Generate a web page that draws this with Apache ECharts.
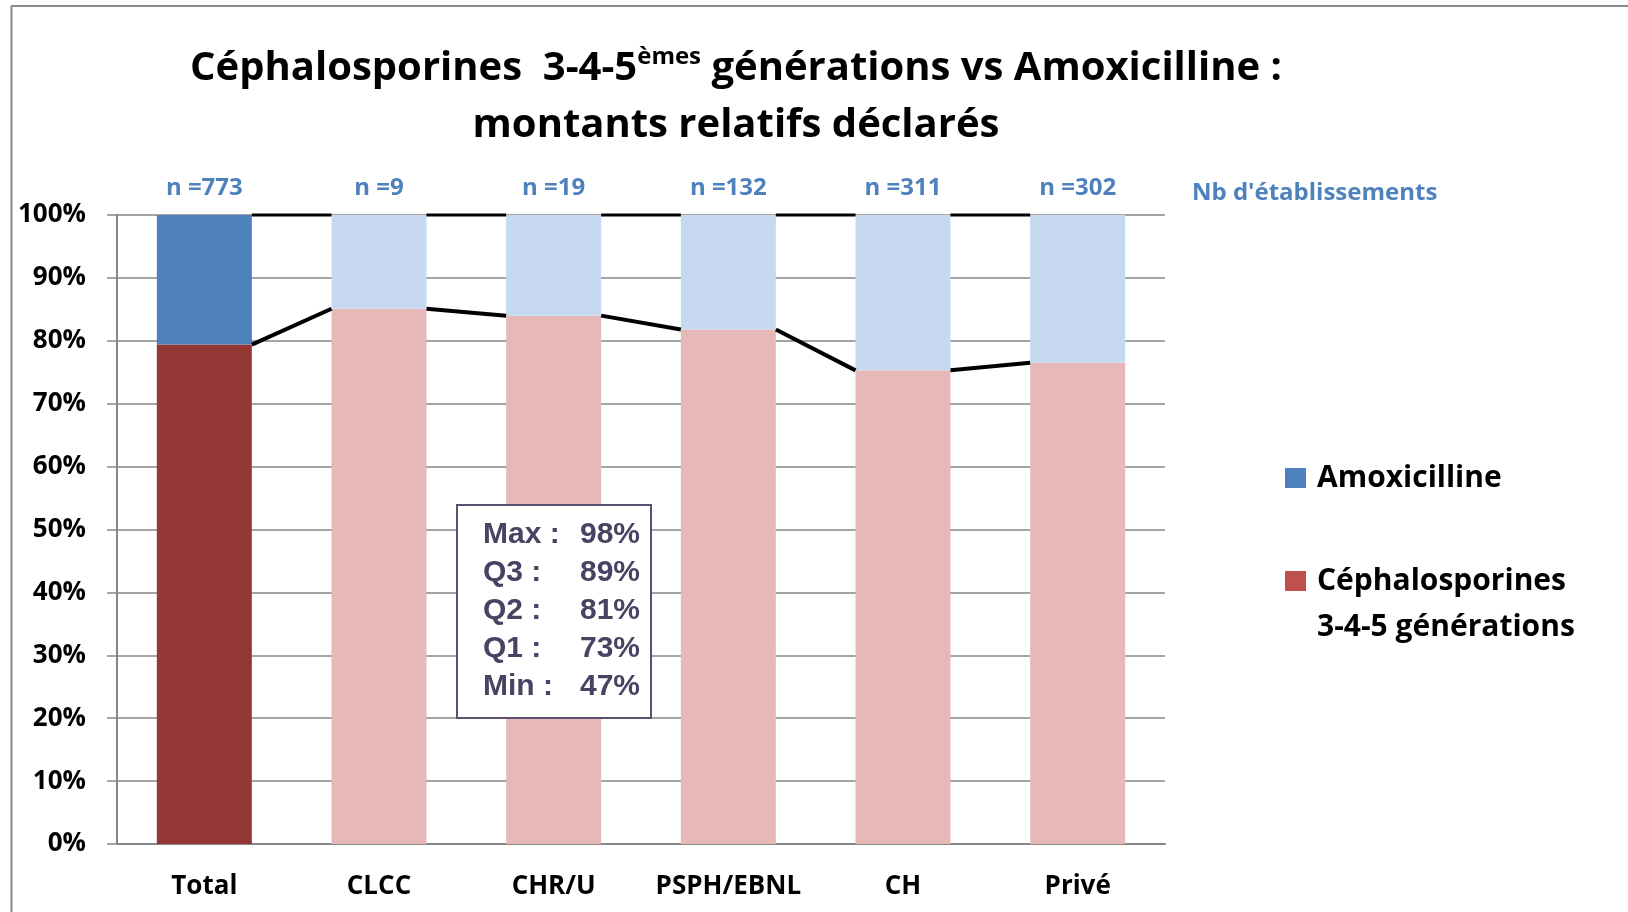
<!DOCTYPE html>
<html>
<head>
<meta charset="utf-8">
<script src="https://cdn.jsdelivr.net/npm/echarts@6/dist/echarts.min.js"></script>
<style>
html,body{margin:0;padding:0;background:#fff;}
#chart{width:1628px;height:912px;}
</style>
</head>
<body>
<div id="chart"></div>
<script>
const categories = ['Total', 'CLCC', 'CHR/U', 'PSPH/EBNL', 'CH', 'Privé'];
const nLabels = ['n =773', 'n =9', 'n =19', 'n =132', 'n =311', 'n =302'];
const cephaValues = [79.4, 85.1, 84.0, 81.8, 75.3, 76.5];
const amoxValues = [20.6, 14.9, 16.0, 18.2, 24.7, 23.5];
const statLabels = ['Max :', 'Q3 :', 'Q2 :', 'Q1 :', 'Min :'];
const statValues = ['98%', '89%', '81%', '73%', '47%'];

const BAR_RATIO = 0.544;
const cephaColors = ['#943634', '#E6B8B7', '#E6B8B7', '#E6B8B7', '#E6B8B7', '#E6B8B7'];
const amoxColors = ['#4F81BD', '#C6D9F1', '#C6D9F1', '#C6D9F1', '#C6D9F1', '#C6D9F1'];

const cephaName = 'Céphalosporines 3-4-5 générations';
const amoxName = 'Amoxicilline';

const segData = [];
const topData = [];
for (let i = 0; i < cephaValues.length - 1; i++) {
  segData.push([i, cephaValues[i], cephaValues[i + 1]]);
  topData.push([i, 100, 100]);
}

function seriesLine(params, api) {
  const i = api.value(0);
  const a = api.value(1);
  const b = api.value(2);
  const bw = api.size([1, 0])[0] * BAR_RATIO;
  const p1 = api.coord([i, a]);
  const p2 = api.coord([i + 1, b]);
  return {
    type: 'line',
    shape: { x1: p1[0] + bw / 2, y1: p1[1], x2: p2[0] - bw / 2, y2: p2[1] },
    style: { stroke: '#000', lineWidth: params.seriesName === 'top' ? 3 : 4 }
  };
}

const boxFont = 'bold 30px "Liberation Sans", Arial';
const statGraphics = [];
statLabels.forEach((t, k) => {
  statGraphics.push({
    type: 'text', x: 483, y: 535 + k * 38, z: 101,
    style: { text: t, fill: '#4a4262', font: boxFont, textAlign: 'left', textVerticalAlign: 'middle' }
  });
  statGraphics.push({
    type: 'text', x: 640, y: 535 + k * 38, z: 101,
    style: { text: statValues[k], fill: '#4a4262', font: boxFont, textAlign: 'right', textVerticalAlign: 'middle' }
  });
});

const chart = echarts.init(document.getElementById('chart'));
chart.setOption({
  animation: false,
  backgroundColor: '#fff',
  grid: { left: 117, right: 463, top: 215, bottom: 68 },
  legend: {
    orient: 'vertical',
    left: 1285,
    top: 463,
    padding: 0,
    itemWidth: 21,
    itemHeight: 20,
    itemGap: 27,
    icon: 'rect',
    formatter: function (name) {
      if (name === cephaName) return '{t| }\n{t|Céphalosporines}\n{t|3-4-5 générations}';
      return '{t|' + name + '}';
    },
    textStyle: {
      padding: [0, 0, 0, 6],
      rich: { t: { fontSize: 30, fontWeight: 'bold', color: '#000', fontFamily: '"Open Sans"', lineHeight: 46 } }
    },
    data: [
      { name: amoxName, itemStyle: { color: '#4F81BD' } },
      { name: cephaName, itemStyle: { color: '#C0504D' } }
    ]
  },
  xAxis: [
    {
      type: 'category',
      data: categories,
      position: 'bottom',
      axisLine: { lineStyle: { color: '#868686', width: 2 } },
      axisTick: { length: 11, lineStyle: { color: '#868686', width: 1.5 } },
      axisLabel: { interval: 0, margin: 30, fontSize: 26, fontWeight: 'bold', color: '#000', fontFamily: '"Open Sans"' }
    },
    {
      type: 'category',
      data: nLabels,
      position: 'top',
      axisLine: { show: false },
      axisTick: { show: false },
      axisLabel: { interval: 0, margin: 15, fontSize: 24, fontWeight: 'bold', color: '#4F81BD', fontFamily: '"Open Sans"' }
    }
  ],
  yAxis: {
    type: 'value',
    min: 0, max: 100, interval: 10,
    axisLine: { show: true, lineStyle: { color: '#868686', width: 2 } },
    axisTick: { show: true, length: 10, lineStyle: { color: '#868686', width: 1.5 } },
    splitLine: { lineStyle: { color: '#868686', width: 1.5 } },
    axisLabel: { formatter: '{value}%', margin: 31, fontSize: 26, fontWeight: 'bold', color: '#000', fontFamily: '"Open Sans"' }
  },
  series: [
    {
      name: cephaName, type: 'bar', stack: 'a', barWidth: (BAR_RATIO * 100) + '%',
      data: cephaValues.map((v, i) => ({ value: v, itemStyle: { color: cephaColors[i] } })),
      itemStyle: { color: '#C0504D' }
    },
    {
      name: amoxName, type: 'bar', stack: 'a', barWidth: (BAR_RATIO * 100) + '%',
      data: amoxValues.map((v, i) => ({ value: v, itemStyle: { color: amoxColors[i] } })),
      itemStyle: { color: '#4F81BD' }
    },
    {
      name: 'seg', type: 'custom', renderItem: seriesLine, data: segData, encode: { x: 0, y: 1 }, z: 5, silent: true
    },
    {
      name: 'top', type: 'custom', renderItem: seriesLine, data: topData, encode: { x: 0, y: 1 }, z: 5, silent: true
    }
  ],
  graphic: [
    { type: 'line', z: 100, shape: { x1: 11.5, y1: 6, x2: 11.5, y2: 912 }, style: { stroke: '#8a8a8a', lineWidth: 2 } },
    { type: 'line', z: 100, shape: { x1: 11, y1: 6, x2: 1628, y2: 6 }, style: { stroke: '#8a8a8a', lineWidth: 2 } },
    {
      type: 'text', x: 736, y: 97, z: 100,
      style: {
        text: '{a|Céphalosporines  3-4-5}{sup|èmes}{a| générations vs Amoxicilline :}\n{a|montants relatifs déclarés}',
        textAlign: 'center', textVerticalAlign: 'middle',
        rich: {
          a: { fontSize: 40, fontWeight: 'bold', fontFamily: '"Open Sans"', fill: '#000', lineHeight: 57 },
          sup: { fontSize: 24, fontWeight: 'bold', fontFamily: '"Open Sans"', fill: '#000', lineHeight: 57, padding: [0, 0, 22, 0] }
        }
      }
    },
    {
      type: 'text', x: 1192, y: 193, z: 100,
      style: { text: "Nb d'établissements", fill: '#4F81BD', font: 'bold 24px "Open Sans"', textAlign: 'left', textVerticalAlign: 'middle' }
    },
    { type: 'rect', z: 100, shape: { x: 457, y: 505, width: 194, height: 213 }, style: { fill: '#fff', stroke: '#5a5070', lineWidth: 2 } }
  ].concat(statGraphics)
});
</script>
</body>
</html>
